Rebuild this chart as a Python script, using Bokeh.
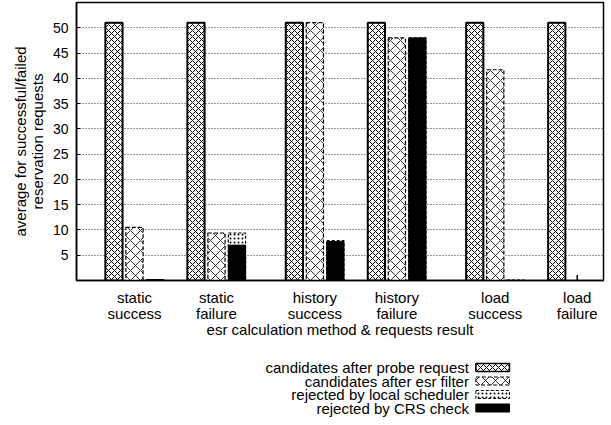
from bokeh.plotting import figure
from bokeh.layouts import column
from bokeh.models import Range1d, FixedTicker, ColumnDataSource
from bokeh.embed import file_html
from bokeh.resources import INLINE
from bokeh.core.properties import value

# categories: esr calculation method and request outcome
groups = ["static\nsuccess", "static\nfailure", "history\nsuccess",
          "history\nfailure", "load\nsuccess", "load\nfailure"]
group_pos = [0, 1, 2.2, 3.2, 4.4, 5.4]

series = ["candidates after probe request", "candidates after esr filter",
          "rejected by local scheduler", "rejected by CRS check"]

# averages per reservation request
probe = [51, 51, 51, 51, 51, 51]
esr_filter = [10.5, 9.4, 51, 48, 41.7, 0]
local_sched = [0.2, 9.4, 7.9, 48, 0.1, 0]
crs_check = [0.2, 7.0, 7.7, 48, 0, 0]
spread = [0, 0, 0, 0, 0, 1.1]

y_ticks = [5, 10, 15, 20, 25, 30, 35, 40, 45, 50]

FONT = "Liberation Sans"
BAR_W = 0.21
STEP = 0.25

p = figure(width=611, height=355, x_range=Range1d(-0.707, 5.72),
           y_range=Range1d(0, 55), output_backend="svg",
           toolbar_location=None, min_border_left=76, min_border_right=8,
           min_border_top=2, min_border_bottom=75)

src = ColumnDataSource(dict(
    x_probe=[g - STEP for g in group_pos],
    x_esr=list(group_pos),
    x_rej=[g + STEP for g in group_pos],
    x_mid=list(group_pos),
    probe=probe, esr=esr_filter, local=local_sched, crs=crs_check,
    spread=spread, zero=[0] * len(group_pos),
))

p.vbar(x="x_probe", top="probe", width=BAR_W, source=src,
       fill_color="white", hatch_pattern="diagonal_cross", hatch_scale=6,
       hatch_weight=1, hatch_color="black", line_color="black", line_width=2)
p.vbar(x="x_esr", top="esr", width=BAR_W, source=src,
       fill_color="white", hatch_pattern="diagonal_cross", hatch_scale=10,
       hatch_weight=0.8, hatch_color="black", line_color="black",
       line_width=1.2, line_dash="4 2")
p.vbar(x="x_rej", top="local", width=BAR_W, source=src,
       fill_color="white", hatch_pattern="dot", hatch_scale=4,
       hatch_weight=0.8, hatch_color="black", line_color="black",
       line_width=1.2, line_dash="3 2")
p.vbar(x="x_rej", top="crs", width=BAR_W, source=src,
       fill_color="black", line_color="black", line_width=1)
p.segment(x0="x_mid", y0="zero", x1="x_mid", y1="spread", source=src,
          line_color="black", line_width=1.5)

# axes
p.xaxis.ticker = FixedTicker(ticks=group_pos)
p.xaxis.major_label_overrides = {g: lab for g, lab in zip(group_pos, groups)}
p.xaxis.major_label_text_font = FONT
p.xaxis.major_label_text_font_size = "15px"
p.xaxis.major_label_text_line_height = 0.95
p.xaxis.major_label_standoff = 8
p.xaxis.major_tick_in = 0
p.xaxis.major_tick_out = 0
p.xaxis.minor_tick_line_color = None
p.xaxis.axis_label = "esr calculation method & requests result"
p.xaxis.axis_label_text_font = FONT
p.xaxis.axis_label_text_font_size = "15px"
p.xaxis.axis_label_text_font_style = "normal"
p.xaxis.axis_label_standoff = -4

p.yaxis.ticker = FixedTicker(ticks=y_ticks)
p.yaxis.major_label_text_font = FONT
p.yaxis.major_label_text_font_size = "14px"
p.yaxis.major_label_standoff = 8
p.yaxis.major_tick_in = 4
p.yaxis.major_tick_out = 0
p.yaxis.minor_tick_line_color = None
p.yaxis.axis_label = "average for successful/failed\nreservation requests"
p.yaxis.axis_label_text_font = FONT
p.yaxis.axis_label_text_font_size = "15px"
p.yaxis.axis_label_text_font_style = "normal"
p.yaxis.axis_label_text_line_height = 1.0
p.yaxis.axis_label_standoff = 4

for ax in (p.xaxis, p.yaxis):
    ax.axis_line_color = "black"
    ax.axis_line_width = 1.5
    ax.major_label_text_color = "black"
    ax.axis_label_text_color = "black"

p.xgrid.visible = False
p.ygrid.ticker = FixedTicker(ticks=y_ticks)
p.ygrid.grid_line_color = "black"
p.ygrid.grid_line_dash = "1 2"
p.ygrid.grid_line_width = 1
p.ygrid.grid_line_alpha = 0.8
p.outline_line_color = "black"
p.outline_line_width = 1.5
p.outline_line_alpha = 1

# key below the chart: label on the left, swatch on the right
KEY_H = 70
k = figure(width=611, height=KEY_H, x_range=Range1d(0, 611),
           y_range=Range1d(KEY_H, 0), output_backend="svg",
           toolbar_location=None, x_axis_type=None, y_axis_type=None,
           min_border=0)
k.grid.visible = False
k.outline_line_color = None

row_y = [12 + 13.5 * i for i in range(len(series))]
k.text(x=[455] * len(series), y=row_y, text=series, text_align="right",
       text_baseline="middle", text_font=value(FONT), text_font_size="15px",
       text_color="black")

sw = dict(x=482.5, width=39, height=8)
k.rect(y=row_y[0], fill_color="white", hatch_pattern="diagonal_cross",
       hatch_scale=6, hatch_weight=1, hatch_color="black",
       line_color="black", line_width=1.5, **sw)
k.rect(y=row_y[1], fill_color="white", hatch_pattern="diagonal_cross",
       hatch_scale=10, hatch_weight=0.8, hatch_color="black",
       line_color="black", line_width=1, line_dash="4 2", **sw)
k.rect(y=row_y[2], fill_color="white", hatch_pattern="dot",
       hatch_scale=4, hatch_weight=0.8, hatch_color="black",
       line_color="black", line_width=1, line_dash="3 2", **sw)
k.rect(y=row_y[3], fill_color="black", line_color="black", line_width=1, **sw)

layout = column(p, k, spacing=0)
open("out.html", "w").write(file_html(layout, INLINE))
